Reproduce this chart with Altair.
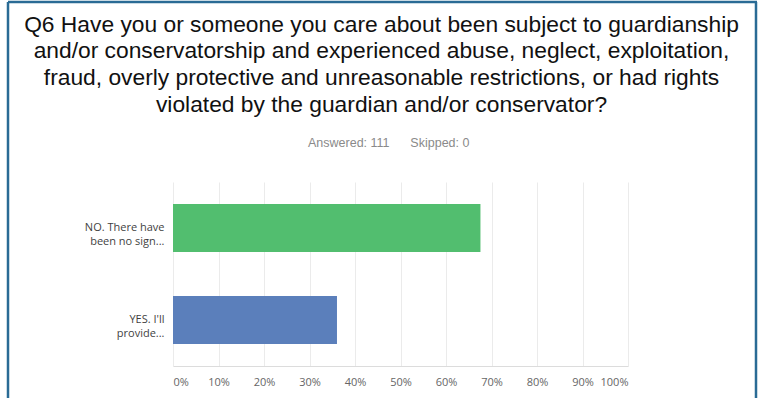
import altair as alt
import pandas as pd

categories = ["NO. There have|been no sign...", "YES. I'll|provide..."]
percents = [67.57, 36.04]
colors = ["#52be6f", "#5b7fbb"]
tick_values = [0, 10, 20, 30, 40, 50, 60, 70, 80, 90, 100]

title_lines = [
    "Q6 Have you or someone you care about been subject to guardianship",
    "and/or conservatorship and experienced abuse, neglect, exploitation,",
    "fraud, overly protective and unreasonable restrictions, or had rights",
    "violated by the guardian and/or conservator?",
]
NB = "\u00a0"
subtitle_text = "Answered: 111" + NB * 6 + "Skipped: 0"

df = pd.DataFrame({"answer": categories, "pct": percents, "color": colors})

W, H = 455, 184
PL, PT = 173, 182

bars = alt.Chart(df).mark_bar().encode(
    y=alt.Y(
        "answer:N",
        sort=categories,
        title=None,
        scale=alt.Scale(paddingInner=0.48, paddingOuter=0.24),
        axis=alt.Axis(
            labelExpr="split(datum.label, '|')",
            labelAlign="right",
            labelPadding=9,
            ticks=False,
            domain=False,
            grid=False,
            labelFont="Open Sans",
            labelFontSize=11,
            labelLineHeight=14,
            labelColor="#3f3f3f",
            labelLimit=200,
        ),
    ),
    x=alt.X(
        "pct:Q",
        title=None,
        scale=alt.Scale(domain=[0, 100], nice=False),
        axis=alt.Axis(
            values=tick_values,
            labelExpr="datum.value + '%'",
            ticks=False,
            domainColor="#dcdcdc",
            gridColor="#ebebeb",
            labelFont="Open Sans",
            labelFontSize=11,
            labelColor="#666666",
            labelPadding=10,
        ),
    ),
    color=alt.Color("color:N", scale=None, legend=None),
)

one = alt.Data(values=[{"k": 1}])
frame_color = "#2a6b95"
top_rule = alt.Chart(one).mark_rule(color=frame_color, strokeWidth=2.5).encode(
    x=alt.value(8 - PL), x2=alt.value(757 - PL), y=alt.value(2 - PT)
)
left_rule = alt.Chart(one).mark_rule(color=frame_color, strokeWidth=2.5).encode(
    x=alt.value(8 - PL), y=alt.value(2 - PT), y2=alt.value(420 - PT)
)
right_rule = alt.Chart(one).mark_rule(color=frame_color, strokeWidth=2.5).encode(
    x=alt.value(756 - PL), y=alt.value(2 - PT), y2=alt.value(420 - PT)
)

title_text = alt.Chart(one).mark_text(
    text=title_lines,
    font="Liberation Sans",
    fontSize=22.8,
    lineHeight=26.7,
    color="#111111",
    align="center",
    baseline="alphabetic",
).encode(x=alt.value(381.5 - PL), y=alt.value(31.7 - PT))

subtitle = alt.Chart(one).mark_text(
    text=subtitle_text,
    font="Liberation Sans",
    fontSize=12.5,
    color="#8a8a8a",
    align="left",
    baseline="alphabetic",
).encode(x=alt.value(308 - PL), y=alt.value(147 - PT))

chart = (
    alt.layer(bars, top_rule, left_rule, right_rule, title_text, subtitle)
    .properties(
        width=W,
        height=H,
        autosize=alt.AutoSizeParams(type="none"),
        padding={"left": PL, "top": PT, "right": 764 - PL - W, "bottom": 398 - PT - H},
        background="white",
    )
    .configure_view(stroke=None)
)

chart.save("out.html", embed_options={"renderer": "svg", "actions": False})
